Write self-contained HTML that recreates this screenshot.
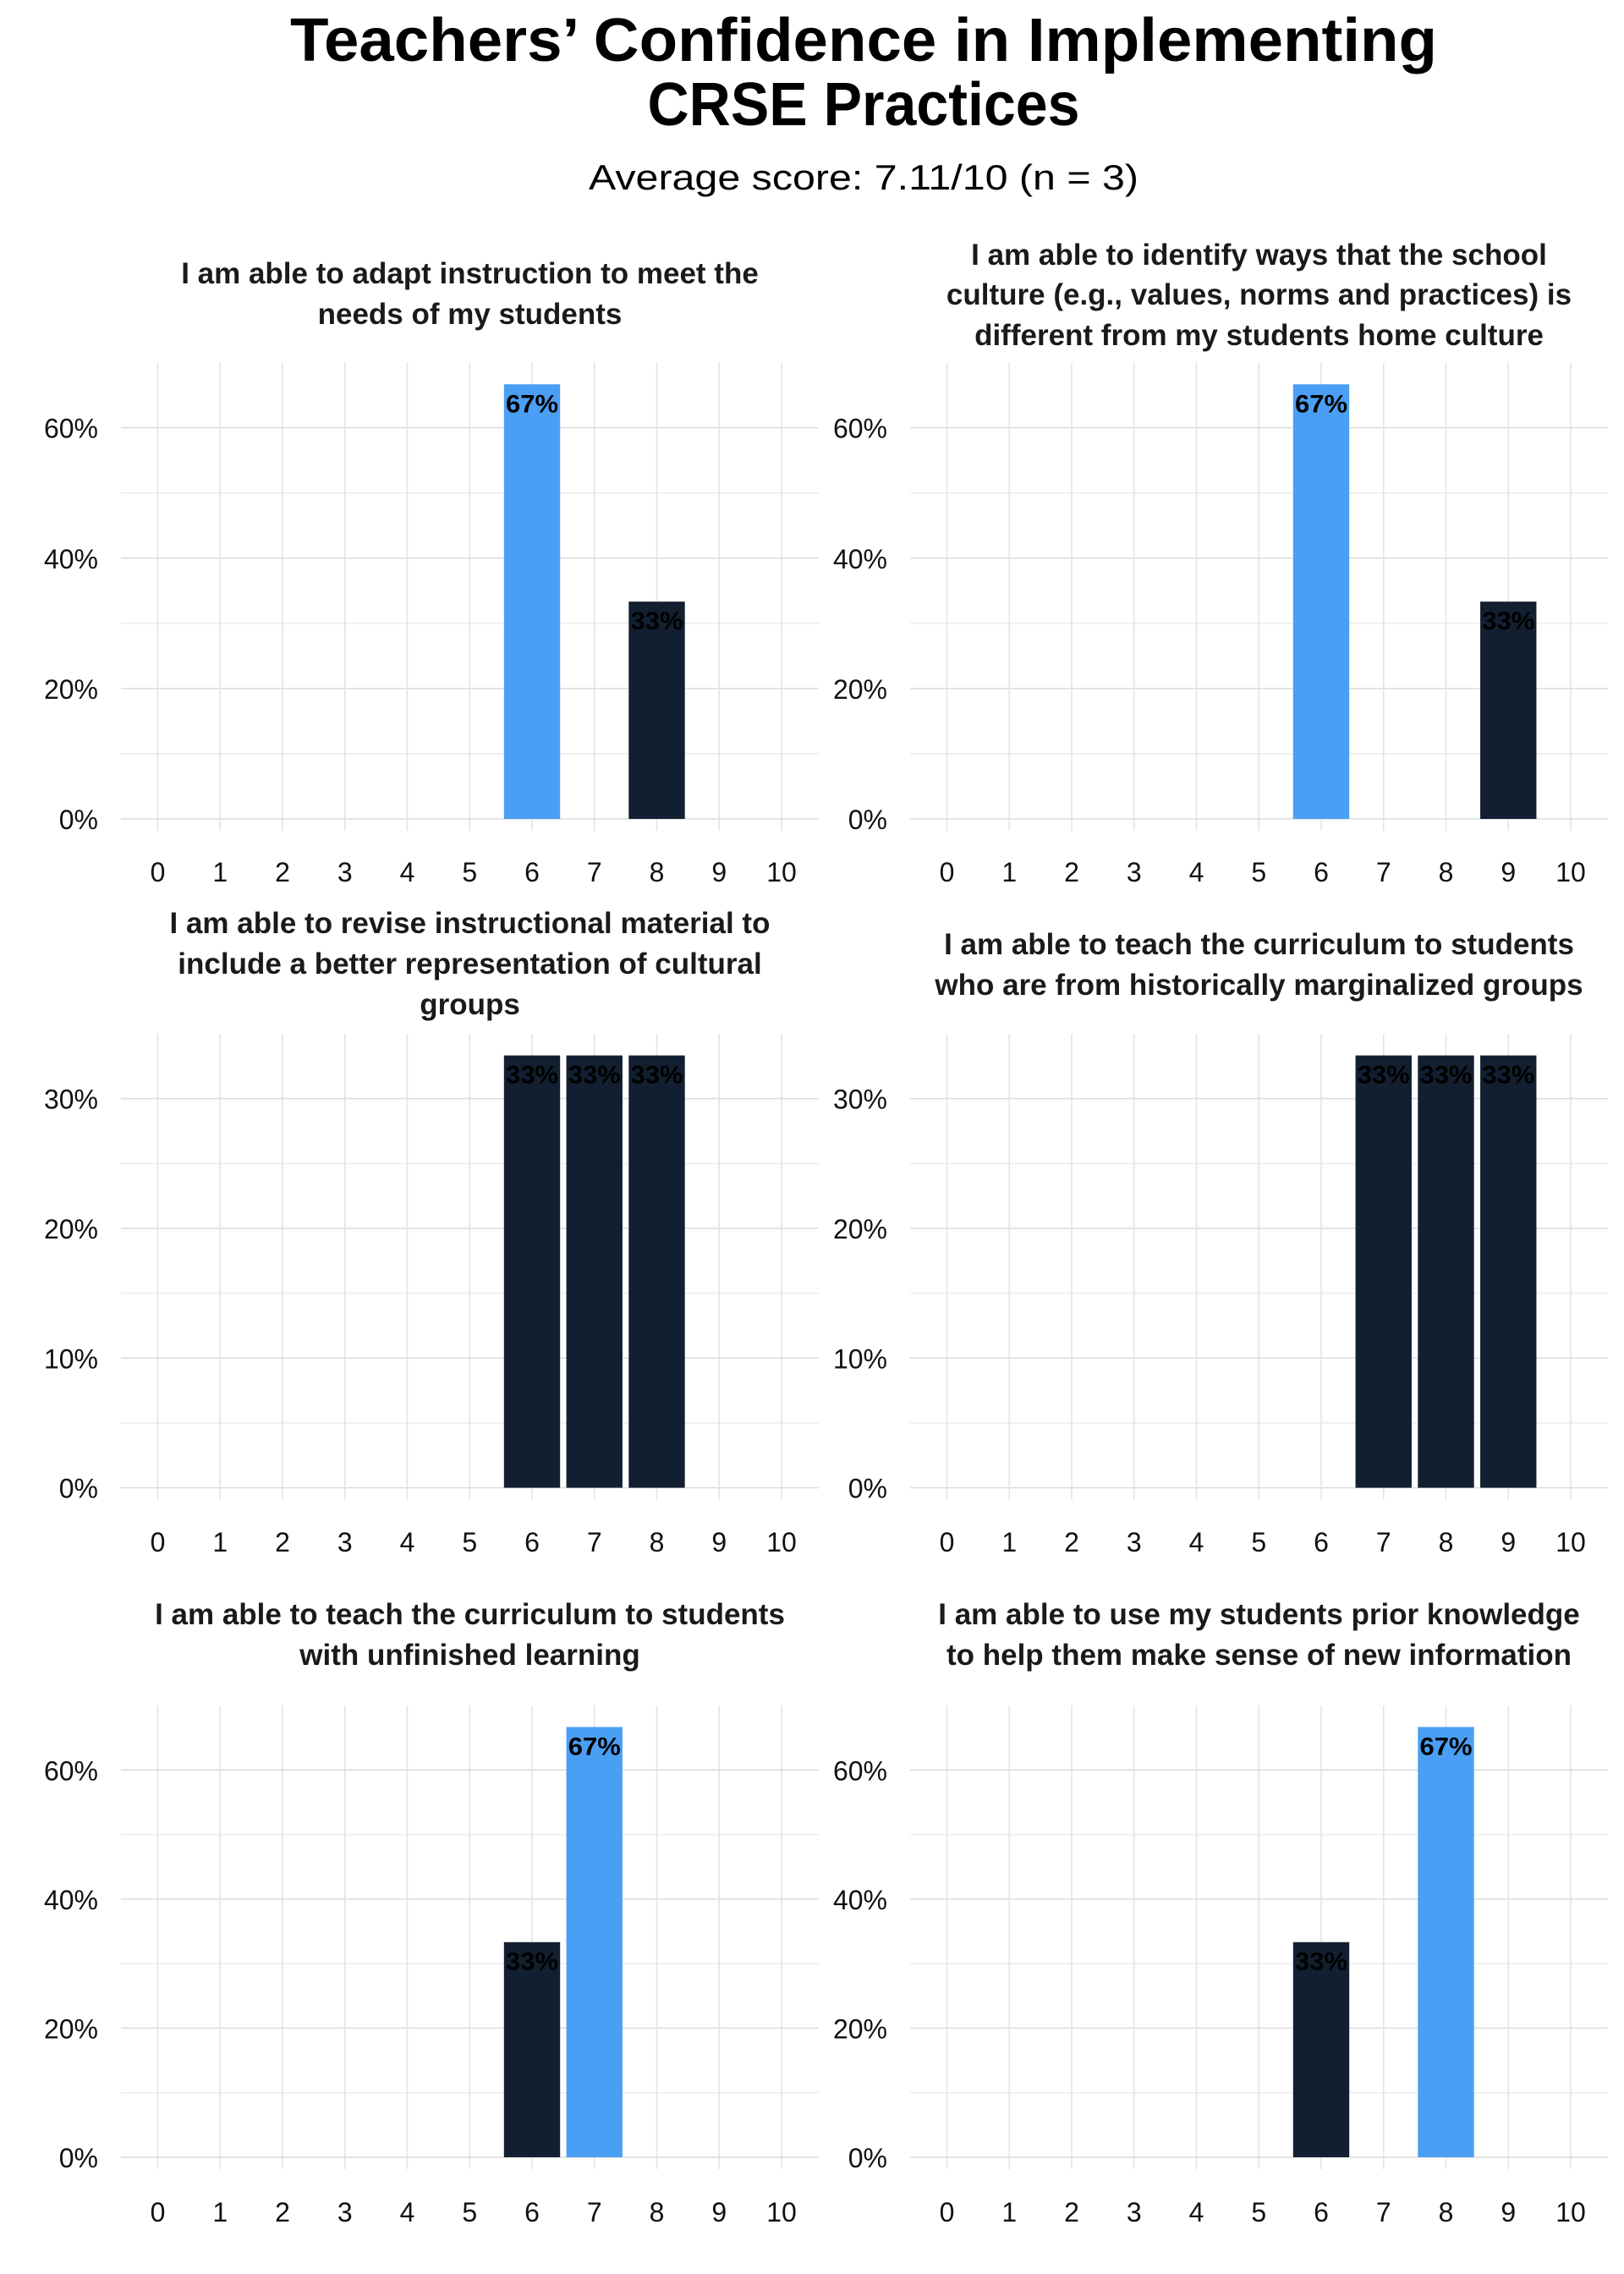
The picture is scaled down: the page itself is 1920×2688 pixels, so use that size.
<!DOCTYPE html>
<html><head><meta charset="utf-8"><style>
html,body{margin:0;padding:0;background:#fff;}
svg{display:block;font-family:"Liberation Sans",sans-serif;}
</style></head><body>
<svg id="chart" width="1920" height="2688" viewBox="0 0 1920 2688" xmlns="http://www.w3.org/2000/svg">
<text x="1021" y="72" text-anchor="middle" font-size="72" font-weight="bold" textLength="1356" lengthAdjust="spacingAndGlyphs">Teachers’ Confidence in Implementing</text>
<text x="1021" y="148" text-anchor="middle" font-size="72" font-weight="bold" textLength="511" lengthAdjust="spacingAndGlyphs">CRSE Practices</text>
<text x="1021" y="224" text-anchor="middle" font-size="42" textLength="650" lengthAdjust="spacingAndGlyphs">Average score: 7.11/10 (n = 3)</text>
</svg>
<script>
const categories = [0,1,2,3,4,5,6,7,8,9,10];
const panelTitles = [
 ["I am able to adapt instruction to meet the","needs of my students"],
 ["I am able to identify ways that the school","culture (e.g., values, norms and practices) is","different from my students home culture"],
 ["I am able to revise instructional material to","include a better representation of cultural","groups"],
 ["I am able to teach the curriculum to students","who are from historically marginalized groups"],
 ["I am able to teach the curriculum to students","with unfinished learning"],
 ["I am able to use my students prior knowledge","to help them make sense of new information"]
];
const barScores = [[6,8],[6,9],[6,7,8],[7,8,9],[6,7],[6,8]];
const barValues = [[66.67,33.33],[66.67,33.33],[33.33,33.33,33.33],[33.33,33.33,33.33],[33.33,66.67],[33.33,66.67]];
const barLabels = [["67%","33%"],["67%","33%"],["33%","33%","33%"],["33%","33%","33%"],["33%","67%"],["33%","67%"]];
const yTicksA = [0,20,40,60];
const yTicksB = [0,10,20,30];

const NS="http://www.w3.org/2000/svg";
const svg=document.getElementById('chart');
function mk(tag,attrs,parent){const e=document.createElementNS(NS,tag);for(const k in attrs)e.setAttribute(k,attrs[k]);(parent||svg).appendChild(e);return e;}

const rows=[
 {bottom:968, top:428.6, ymax:70, ticks:yTicksA, minor:10, xl:1042, titleBase:[[335,383],[313,360,408]]},
 {bottom:1758.6, top:1222, ymax:35, ticks:yTicksB, minor:5, xl:1834, titleBase:[[1103,1151,1199],[1128,1176]]},
 {bottom:2550, top:2016, ymax:70, ticks:yTicksA, minor:10, xl:2626, titleBase:[[1920,1968],[1920,1968]]}
];
for(let p=0;p<6;p++){
 const r=rows[Math.floor(p/2)], col=p%2, off=col*933;
 const g=mk('g',{});
 
 
 const x0=186.5+off, unit=73.75, left=143+off, right=968+off;
 const xs=v=>x0+v*unit;
 const ys=v=>r.bottom-(v/r.ymax)*(r.bottom-r.top);
 const cx=(left+right)/2;
 panelTitles[p].forEach((ln,i)=>{
  const t=mk('text',{x:cx,y:r.titleBase[col][i],'text-anchor':'middle','font-size':35,'font-weight':'bold',fill:'#1a1a1a'},g);
  
  
  t.textContent=ln;
 });
 for(let v=0;v<r.ymax;v+=r.minor){
  const l=mk('line',{x1:left,x2:right,y1:ys(v),y2:ys(v),stroke:(v%(r.minor*2)===0)?'#dcdcdc':'#ececec','stroke-width':1.5},g);
  
  
 }
 categories.forEach(c=>{
  const l=mk('line',{x1:xs(c),x2:xs(c),y1:r.top,y2:r.bottom+14,stroke:'#e2e2e2','stroke-width':1.5},g);
  
  
  const t=mk('text',{x:xs(c),y:r.xl,'text-anchor':'middle','font-size':32,fill:'#111'},g);
  
  
  t.textContent=c;
 });
 r.ticks.forEach(v=>{
  const t=mk('text',{x:116+off,y:ys(v)+12,'text-anchor':'end','font-size':32,fill:'#111'},g);
  
  
  t.textContent=v+'%';
 });
 barScores[p].forEach((s,i)=>{
  const v=barValues[p][i], w=unit*0.9;
  const b=mk('rect',{x:xs(s)-w/2,y:ys(v),width:w,height:r.bottom-ys(v),fill:v>50?'#4A9FF5':'#121F30'},g);
  
  
  const t=mk('text',{x:xs(s),y:ys(v)+33,'text-anchor':'middle','font-size':30,'font-weight':'bold',fill:'#000',textLength:62,lengthAdjust:'spacingAndGlyphs'},g);
  
  
  t.textContent=barLabels[p][i];
 });
}
</script>
</body></html>
